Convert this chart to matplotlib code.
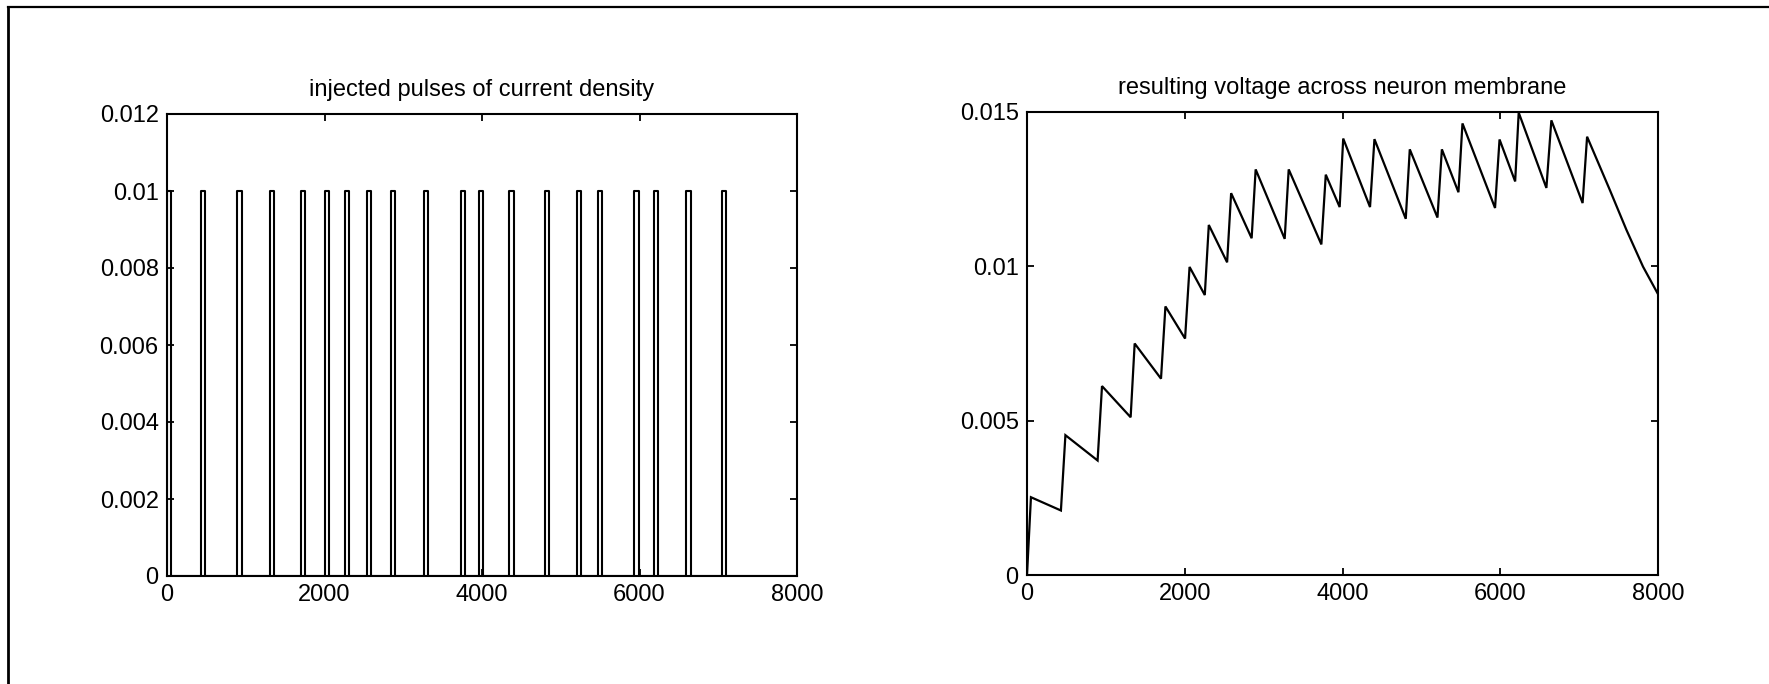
import matplotlib
matplotlib.use("Agg")
import matplotlib.pyplot as plt
from matplotlib.lines import Line2D

plt.rcParams['font.family'] = ['Liberation Sans', 'DejaVu Sans']

# Pulse timing (start / end of each injected pulse)
pulse_start = [0, 430, 895, 1314, 1699, 2004, 2254, 2537, 2848, 3267,
               3732, 3964, 4349, 4802, 5204, 5470, 5934, 6189, 6585, 7044]
pulse_end = [50, 487, 951, 1365, 1755, 2061, 2305, 2588, 2899, 3318,
             3788, 4009, 4405, 4853, 5260, 5521, 5991, 6234, 6648, 7101]
pulse_amp = 0.01

# Membrane voltage (x1e-3) at the start (trough) and end (peak) of each pulse
v_trough = [0.0, 2.09, 3.71, 5.11, 6.36, 7.66, 9.07, 10.13, 10.91, 10.89,
            10.71, 11.92, 11.92, 11.54, 11.58, 12.40, 11.89, 12.75, 12.54, 12.05]
v_peak = [2.52, 4.53, 6.12, 7.50, 8.70, 9.98, 11.34, 12.37, 13.14, 13.14,
          12.97, 14.14, 14.12, 13.79, 13.79, 14.63, 14.11, 14.98, 14.73, 14.20]
# Final free decay after the last pulse
tail_t = [7390, 7600, 7810, 8000]
tail_v = [12.47, 11.18, 9.99, 9.10]

x_ticks = [0, 2000, 4000, 6000, 8000]
left_yticks = [0, 0.002, 0.004, 0.006, 0.008, 0.01, 0.012]
left_ylabels = ['0', '0.002', '0.004', '0.006', '0.008', '0.01', '0.012']
right_yticks = [0, 0.005, 0.01, 0.015]
right_ylabels = ['0', '0.005', '0.01', '0.015']

# Step trace of the current density
cur_t, cur_y = [], []
for s, e in zip(pulse_start, pulse_end):
    cur_t += [s, s, e, e]
    cur_y += [0, pulse_amp, pulse_amp, 0]
cur_t.append(8000)
cur_y.append(0)

# Piecewise voltage trace
volt_t, volt_y = [], []
for s, e, lo, hi in zip(pulse_start, pulse_end, v_trough, v_peak):
    volt_t += [s, e]
    volt_y += [lo * 1e-3, hi * 1e-3]
volt_t += tail_t
volt_y += [v * 1e-3 for v in tail_v]

fig = plt.figure(figsize=(17.69, 6.84), dpi=100)
fig.patch.set_facecolor('white')

ax1 = fig.add_axes([167 / 1769, 108 / 684, 630 / 1769, 462 / 684])
ax2 = fig.add_axes([1027 / 1769, 109 / 684, 631 / 1769, 463 / 684])

ax1.plot(cur_t, cur_y, color='black', lw=1.5, solid_joinstyle='round')
ax2.plot(volt_t, volt_y, color='black', lw=1.6, solid_joinstyle='miter')

for ax, yt, yl, lim, title in [
        (ax1, left_yticks, left_ylabels, 0.012, 'injected pulses of current density'),
        (ax2, right_yticks, right_ylabels, 0.015, 'resulting voltage across neuron membrane')]:
    ax.set_xlim(0, 8000)
    ax.set_ylim(0, lim)
    ax.set_xticks(x_ticks)
    ax.set_xticklabels([str(v) for v in x_ticks])
    ax.set_yticks(yt)
    ax.set_yticklabels(yl)
    ax.tick_params(direction='in', length=5, width=1.3, top=True, right=True,
                   labelsize=17, colors='black', pad=6)
    for sp in ax.spines.values():
        sp.set_linewidth(1.5)
        sp.set_color('black')
    ax.set_title(title, fontsize=17, pad=13)

# Frame lines along the top and left edges of the page
fig.add_artist(Line2D([8 / 1769, 1.0], [1 - 7 / 684, 1 - 7 / 684],
                      transform=fig.transFigure, color='black', lw=1.6))
fig.add_artist(Line2D([8 / 1769, 8 / 1769], [0.0, 1 - 7 / 684],
                      transform=fig.transFigure, color='black', lw=2.0))

fig.savefig('out.png', dpi=100, facecolor='white')
